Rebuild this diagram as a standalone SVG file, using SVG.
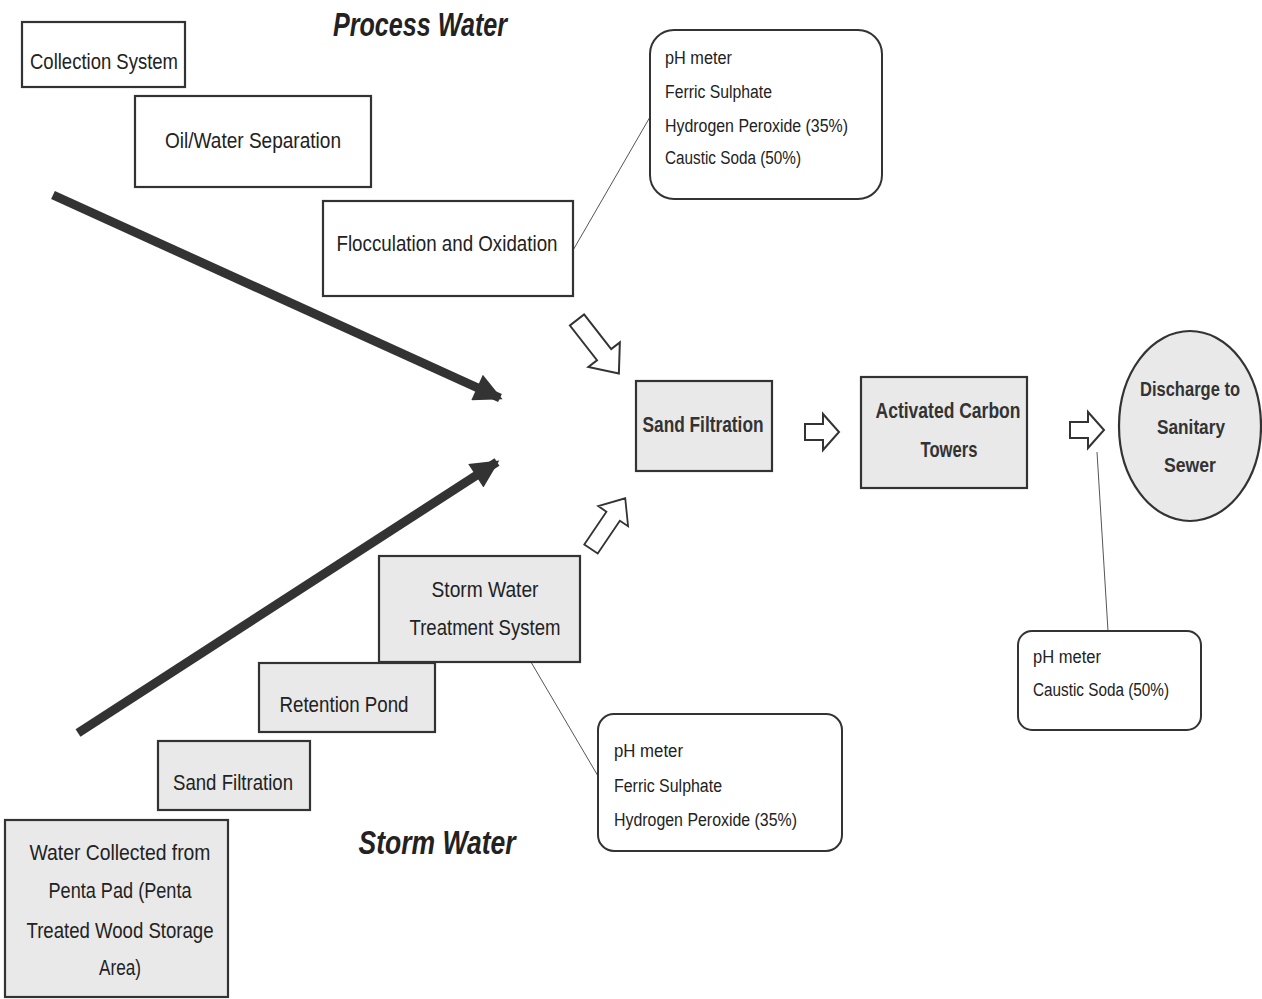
<svg xmlns="http://www.w3.org/2000/svg" width="1262" height="999" viewBox="0 0 1262 999">
<defs>
<style>
.box{fill:#fff;stroke:#333;stroke-width:2.2}
.g{fill:#e9e9e9;stroke:#333;stroke-width:2.2}
.call{fill:#fff;stroke:#333;stroke-width:2}
.t{font-family:"Liberation Sans",Arial,sans-serif;fill:#222;font-size:22px;text-anchor:middle}
.tb{font-weight:bold;fill:#333}
.d{font-size:20px}
.s{font-family:"Liberation Sans",Arial,sans-serif;fill:#222;font-size:18px}
.h{font-family:"Liberation Sans",Arial,sans-serif;font-style:italic;font-weight:bold;font-size:34px;fill:#222;text-anchor:middle}
.lead{stroke:#555;stroke-width:1;fill:none}
.thick{stroke:#333;stroke-width:9;fill:none}
.hollow{fill:#fff;stroke:#333;stroke-width:2}
</style>
<marker id="ah" viewBox="0 0 10 10" refX="9" refY="5" markerWidth="32" markerHeight="28" markerUnits="userSpaceOnUse" orient="auto">
<path d="M0,0 L10,5 L0,10 Z" fill="#333"/>
</marker>
<path id="ha" d="M0,-8 L18,-8 L18,-18 L34,0 L18,18 L18,8 L0,8 Z"/>
<path id="ld" d="M0,-9 L44,-9 L44,-20 L68,0 L44,20 L44,9 L0,9 Z"/>
</defs>
<rect width="1262" height="999" fill="#fff"/>

<text class="h" x="420" y="36" textLength="174" lengthAdjust="spacingAndGlyphs">Process Water</text>
<text class="h" x="437" y="854" textLength="157" lengthAdjust="spacingAndGlyphs">Storm Water</text>

<g id="connectors">
<line class="thick" x1="53" y1="195" x2="500" y2="398" marker-end="url(#ah)"/>
<line class="thick" x1="78" y1="733" x2="497" y2="462" marker-end="url(#ah)"/>
<use href="#ld" class="hollow" transform="translate(577,320) rotate(52)"/>
<use href="#ld" class="hollow" transform="translate(591,549) rotate(-56) scale(0.9)"/>
<use href="#ha" class="hollow" transform="translate(805,432)"/>
<use href="#ha" class="hollow" transform="translate(1070,430)"/>
<line class="lead" x1="572" y1="252" x2="650" y2="117"/>
<line class="lead" x1="518" y1="640" x2="598" y2="776"/>
<line class="lead" x1="1097" y1="452" x2="1108" y2="631"/>
</g>

<g id="collection-system">
<rect class="box" x="22" y="22" width="163" height="65"/>
<text class="t" x="104" y="69" textLength="148" lengthAdjust="spacingAndGlyphs">Collection System</text>
</g>
<g id="oil-water-separation">
<rect class="box" x="135" y="96" width="236" height="91"/>
<text class="t" x="253" y="148" textLength="176" lengthAdjust="spacingAndGlyphs">Oil/Water Separation</text>
</g>
<g id="flocculation-oxidation">
<rect class="box" x="323" y="201" width="250" height="95"/>
<text class="t" x="447" y="251" textLength="221" lengthAdjust="spacingAndGlyphs">Flocculation and Oxidation</text>
</g>
<g id="callout-process">
<rect class="call" x="650" y="30" width="232" height="169" rx="24"/>
<text class="s" x="665" y="64" textLength="67" lengthAdjust="spacingAndGlyphs">pH meter</text>
<text class="s" x="665" y="98" textLength="107" lengthAdjust="spacingAndGlyphs">Ferric Sulphate</text>
<text class="s" x="665" y="132" textLength="183" lengthAdjust="spacingAndGlyphs">Hydrogen Peroxide (35%)</text>
<text class="s" x="665" y="164" textLength="136" lengthAdjust="spacingAndGlyphs">Caustic Soda (50%)</text>
</g>
<g id="sand-filtration-main">
<rect class="g" x="636" y="381" width="136" height="90"/>
<text class="t tb" x="703" y="432" textLength="121" lengthAdjust="spacingAndGlyphs">Sand Filtration</text>
</g>
<g id="activated-carbon">
<rect class="g" x="861" y="377" width="166" height="111"/>
<text class="t tb" x="948" y="418" textLength="145" lengthAdjust="spacingAndGlyphs">Activated Carbon</text>
<text class="t tb" x="949" y="457" textLength="57" lengthAdjust="spacingAndGlyphs">Towers</text>
</g>
<g id="discharge">
<ellipse class="g" cx="1190" cy="426" rx="71" ry="95"/>
<text class="t tb d" x="1190" y="396" textLength="100" lengthAdjust="spacingAndGlyphs">Discharge to</text>
<text class="t tb d" x="1191" y="434" textLength="68" lengthAdjust="spacingAndGlyphs">Sanitary</text>
<text class="t tb d" x="1190" y="472" textLength="52" lengthAdjust="spacingAndGlyphs">Sewer</text>
</g>
<g id="callout-discharge">
<rect class="call" x="1018" y="631" width="183" height="99" rx="14"/>
<text class="s" x="1033" y="663" textLength="68" lengthAdjust="spacingAndGlyphs">pH meter</text>
<text class="s" x="1033" y="696" textLength="136" lengthAdjust="spacingAndGlyphs">Caustic Soda (50%)</text>
</g>
<g id="storm-treatment">
<rect class="g" x="379" y="556" width="201" height="106"/>
<text class="t" x="485" y="597" textLength="107" lengthAdjust="spacingAndGlyphs">Storm Water</text>
<text class="t" x="485" y="635" textLength="151" lengthAdjust="spacingAndGlyphs">Treatment System</text>
</g>
<g id="retention-pond">
<rect class="g" x="259" y="663" width="176" height="69"/>
<text class="t" x="344" y="712" textLength="129" lengthAdjust="spacingAndGlyphs">Retention Pond</text>
</g>
<g id="sand-filtration-storm">
<rect class="g" x="158" y="741" width="152" height="69"/>
<text class="t" x="233" y="790" textLength="120" lengthAdjust="spacingAndGlyphs">Sand Filtration</text>
</g>
<g id="water-collected">
<rect class="g" x="5" y="820" width="223" height="177"/>
<text class="t" x="120" y="860" textLength="181" lengthAdjust="spacingAndGlyphs">Water Collected from</text>
<text class="t" x="120" y="898" textLength="143" lengthAdjust="spacingAndGlyphs">Penta Pad (Penta</text>
<text class="t" x="120" y="938" textLength="187" lengthAdjust="spacingAndGlyphs">Treated Wood Storage</text>
<text class="t" x="120" y="975" textLength="42" lengthAdjust="spacingAndGlyphs">Area)</text>
</g>
<g id="callout-storm">
<rect class="call" x="598" y="714" width="244" height="137" rx="16"/>
<text class="s" x="614" y="757" textLength="69" lengthAdjust="spacingAndGlyphs">pH meter</text>
<text class="s" x="614" y="792" textLength="108" lengthAdjust="spacingAndGlyphs">Ferric Sulphate</text>
<text class="s" x="614" y="826" textLength="183" lengthAdjust="spacingAndGlyphs">Hydrogen Peroxide (35%)</text>
</g>
</svg>
